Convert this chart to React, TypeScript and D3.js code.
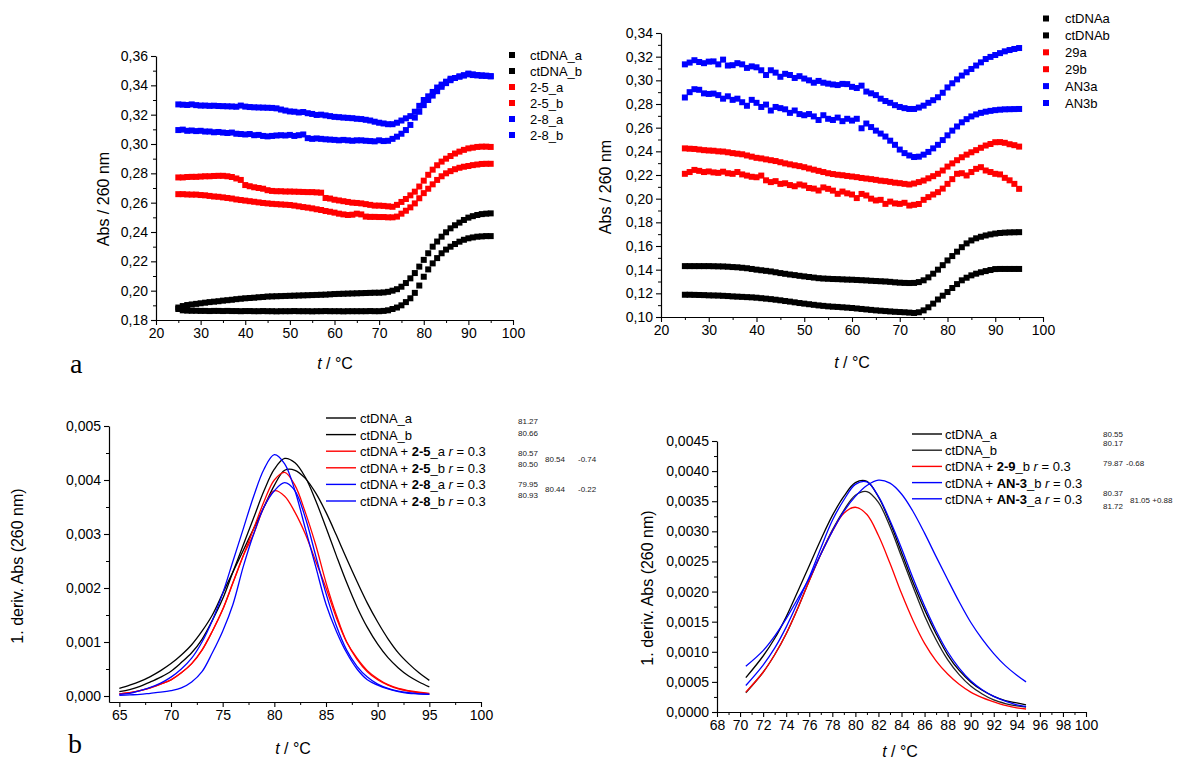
import React, { useEffect, useRef } from "react";
import * as d3 from "d3";

const W = 1177;
const H = 760;
const FONT = "'Liberation Sans', Arial, Helvetica, sans-serif";

// ---------- Top panels: temperature grid (°C) ----------
const TEMPS_TOP = d3.range(25, 96);

// Panel a (left): ctDNA, 2-5, 2-8
const A_CT_A = [0.1885,0.1895,0.1902,0.1906,0.191,0.1914,0.1918,0.1922,0.1925,0.1928,0.1932,
0.1935,0.1938,0.1942,0.1945,0.1948,0.195,0.1952,0.1955,0.1957,0.196,
0.1961,0.1962,0.1963,0.1964,0.1965,0.1966,0.1967,0.1968,0.1969,0.197,
0.1971,0.1972,0.1973,0.1975,0.1977,0.1978,0.1979,0.198,0.1981,0.1982,
0.1983,0.1984,0.1985,0.1986,0.1986,0.1988,0.1992,0.2,0.201,0.2027,
0.2052,0.2084,0.212,0.2164,0.221,0.2255,0.23,0.2335,0.2368,0.2398,
0.2425,0.2446,0.2464,0.2482,0.2498,0.2508,0.2516,0.2522,0.2525,0.2527];
const A_CT_B = [0.1875,0.1866,0.1864,0.1863,0.1863,0.1862,0.1862,0.1861,0.1862,0.1862,0.1861,
0.1862,0.1861,0.1861,0.186,0.1861,0.1861,0.186,0.186,0.1861,0.186,
0.186,0.1859,0.186,0.186,0.186,0.1861,0.186,0.186,0.186,0.1859,
0.186,0.186,0.1861,0.186,0.186,0.186,0.1859,0.186,0.186,0.186,
0.186,0.186,0.1861,0.186,0.186,0.1862,0.1866,0.1875,0.1885,0.19,
0.1922,0.1948,0.1985,0.2035,0.2095,0.2145,0.2186,0.2222,0.2255,0.228,
0.23,0.2318,0.2334,0.2347,0.2357,0.2363,0.2368,0.237,0.2372,0.2372];
const A_25_A = [0.2772,0.2772,0.2775,0.2776,0.2776,0.2778,0.278,0.278,0.2782,0.2783,0.2783,
0.278,0.2775,0.2765,0.2755,0.272,0.2712,0.2705,0.27,0.2695,0.2685,
0.268,0.2678,0.2678,0.2676,0.2676,0.2675,0.2674,0.2673,0.2672,0.2672,
0.267,0.2668,0.2632,0.2628,0.262,0.2615,0.261,0.2605,0.26,0.2598,
0.2595,0.259,0.2585,0.258,0.258,0.2578,0.2575,0.2572,0.2585,0.2605,
0.2625,0.265,0.2675,0.271,0.275,0.279,0.2825,0.2855,0.288,0.29,
0.2918,0.2935,0.2948,0.296,0.297,0.2975,0.298,0.2982,0.2982,0.298];
const A_25_B = [0.2658,0.2658,0.2656,0.2655,0.2655,0.2652,0.265,0.2646,0.2642,0.264,0.2636,
0.2632,0.2628,0.2622,0.2618,0.2614,0.261,0.2606,0.2602,0.2598,0.2595,
0.2592,0.259,0.2588,0.2586,0.2584,0.258,0.2575,0.257,0.2566,0.2561,
0.2555,0.255,0.2543,0.2538,0.2532,0.2525,0.252,0.2516,0.2518,0.2525,
0.252,0.2505,0.2503,0.2503,0.2502,0.2502,0.25,0.25,0.2505,0.2525,
0.2545,0.2568,0.2595,0.263,0.2665,0.2695,0.2725,0.2755,0.278,0.28,
0.2815,0.2828,0.2838,0.2845,0.285,0.2856,0.286,0.2864,0.2865,0.2865];
const A_28_A = [0.327,0.3268,0.3266,0.327,0.3265,0.3262,0.3262,0.326,0.3261,0.3259,0.3258,
0.3257,0.3256,0.3254,0.3262,0.3255,0.3252,0.325,0.3249,0.3248,0.3247,
0.3246,0.3243,0.3235,0.3228,0.3222,0.322,0.3215,0.3218,0.321,0.3205,
0.3198,0.32,0.3195,0.319,0.3185,0.3183,0.318,0.3178,0.3176,0.3172,
0.317,0.3165,0.316,0.3152,0.3145,0.314,0.3135,0.3135,0.3145,0.316,
0.3175,0.319,0.322,0.326,0.33,0.3325,0.3355,0.3385,0.3405,0.3425,
0.3445,0.345,0.346,0.3468,0.3475,0.347,0.3468,0.3465,0.3465,0.3462];
const A_28_B = [0.3095,0.3098,0.309,0.3092,0.3088,0.309,0.3085,0.3085,0.308,0.3082,0.3078,
0.3075,0.3078,0.307,0.3068,0.3065,0.3068,0.306,0.3062,0.3055,0.3052,
0.3055,0.3058,0.306,0.3058,0.3062,0.3055,0.306,0.3065,0.304,0.3035,
0.3038,0.3035,0.3032,0.303,0.3028,0.3025,0.3028,0.3025,0.3022,0.3025,
0.3025,0.3022,0.302,0.3018,0.3025,0.302,0.3022,0.3035,0.305,0.307,
0.3095,0.313,0.318,0.322,0.3265,0.33,0.333,0.336,0.339,0.3415,
0.3435,0.345,0.346,0.3468,0.348,0.3475,0.347,0.3468,0.3465,0.3462];

// Panel a (right): ctDNA, 29, AN3
const B_CT_A = [0.143,0.143,0.143,0.143,0.143,0.143,0.1429,0.1428,0.1427,0.1425,0.1422,
0.142,0.1416,0.1412,0.1406,0.14,0.1395,0.139,0.1385,0.1378,0.1371,
0.1365,0.1359,0.1354,0.1348,0.1343,0.1338,0.1333,0.1328,0.1325,0.1323,
0.1321,0.132,0.1318,0.1316,0.1315,0.1313,0.1311,0.1309,0.1306,0.1304,
0.1302,0.13,0.1297,0.1293,0.129,0.1288,0.1287,0.1288,0.1295,0.131,
0.1335,0.1366,0.14,0.1438,0.1478,0.1515,0.1552,0.159,0.1622,0.1647,
0.1665,0.1678,0.1689,0.1698,0.1705,0.171,0.1713,0.1715,0.1716,0.1717];
const B_CT_B = [0.1188,0.1188,0.1187,0.1186,0.1185,0.1183,0.1182,0.1181,0.1179,0.1177,0.1174,
0.1172,0.117,0.1168,0.1166,0.1163,0.1159,0.1155,0.1151,0.1146,0.1141,
0.1135,0.113,0.1124,0.1118,0.1113,0.1108,0.1103,0.1098,0.1094,0.109,
0.1087,0.1085,0.1082,0.1079,0.1076,0.1072,0.1068,0.1064,0.106,0.1056,
0.1053,0.105,0.1047,0.1044,0.1042,0.104,0.1037,0.1034,0.104,0.1056,
0.1082,0.1113,0.1148,0.118,0.1211,0.1245,0.1278,0.131,0.1332,0.1352,
0.1366,0.1378,0.1388,0.1397,0.1405,0.1406,0.1406,0.1406,0.1406,0.1406];
const B_29_A = [0.2425,0.2422,0.242,0.2415,0.241,0.2407,0.2405,0.24,0.2398,0.2392,0.2385,
0.238,0.2375,0.2365,0.2355,0.2345,0.234,0.2332,0.2325,0.2318,0.2308,
0.2298,0.229,0.2282,0.2275,0.2266,0.2255,0.2245,0.2235,0.2225,0.2215,
0.2208,0.2202,0.2198,0.2192,0.2187,0.2182,0.2175,0.217,0.2165,0.2159,
0.2152,0.2148,0.2142,0.2135,0.2131,0.2125,0.212,0.2128,0.214,0.2153,
0.2172,0.219,0.221,0.2238,0.2271,0.2298,0.2325,0.235,0.2372,0.2392,
0.241,0.243,0.2449,0.2462,0.2477,0.2478,0.2472,0.246,0.2452,0.244];
const B_29_B = [0.221,0.2225,0.2243,0.2235,0.2225,0.223,0.2222,0.2218,0.2228,0.2215,0.221,
0.2225,0.2205,0.2195,0.2185,0.2181,0.2195,0.2155,0.214,0.2148,0.2125,
0.213,0.2115,0.2105,0.212,0.2111,0.209,0.2085,0.2069,0.2095,0.2083,
0.2068,0.2041,0.206,0.2045,0.2035,0.2005,0.204,0.2027,0.2,0.1985,
0.199,0.1956,0.1975,0.196,0.1956,0.1965,0.1942,0.1948,0.1955,0.199,
0.2013,0.2035,0.2055,0.2085,0.2125,0.2165,0.221,0.2215,0.2196,0.2225,
0.2252,0.2266,0.2238,0.2225,0.221,0.2205,0.2176,0.2155,0.2125,0.2083];
const B_AN3_A = [0.3135,0.315,0.317,0.3155,0.3145,0.3158,0.316,0.3135,0.3175,0.3125,0.3128,
0.3145,0.3135,0.3105,0.3118,0.311,0.3085,0.3045,0.3085,0.3065,0.303,
0.3055,0.3045,0.302,0.3035,0.3015,0.3,0.298,0.2995,0.298,0.2972,
0.2965,0.296,0.297,0.2968,0.2945,0.2935,0.2955,0.2905,0.289,0.2875,
0.2845,0.2825,0.281,0.279,0.2775,0.2765,0.2758,0.2758,0.277,0.2786,
0.281,0.2832,0.2857,0.2895,0.294,0.2975,0.3008,0.304,0.3068,0.3096,
0.3125,0.3152,0.318,0.3198,0.3214,0.323,0.3245,0.3256,0.3265,0.3273];
const B_AN3_B = [0.2855,0.29,0.2925,0.292,0.289,0.2885,0.2888,0.2875,0.2845,0.2865,0.2835,
0.2845,0.2815,0.2785,0.2835,0.281,0.2775,0.2795,0.2745,0.2775,0.2765,
0.2755,0.2725,0.2745,0.2715,0.2705,0.2715,0.2695,0.2665,0.2705,0.2675,
0.2665,0.2685,0.2655,0.2675,0.266,0.2675,0.2595,0.2635,0.2605,0.2575,
0.255,0.2525,0.249,0.2455,0.2415,0.2385,0.2365,0.2352,0.2355,0.2372,
0.2395,0.2425,0.2455,0.2495,0.2535,0.2575,0.261,0.2645,0.2672,0.2695,
0.2712,0.2725,0.2735,0.2742,0.2748,0.2752,0.2755,0.2756,0.2757,0.2758];

// ---------- Bottom-left: first derivative (65..95 °C) ----------
const TEMPS_C = d3.range(65, 96);
const C_CT_A = [0.00008,0.00012,0.00018,0.00026,0.00035,0.00046,0.00062,0.0008,0.00105,0.0014,0.0018,0.0023,0.0028,0.0033,0.0038,0.0042,0.0044,0.00432,0.00405,0.00362,0.00312,0.0026,0.0021,0.00165,0.00127,0.00096,0.00071,0.00052,0.00037,0.00026,0.00017];
const C_CT_B = [0.00014,0.0002,0.00027,0.00036,0.00047,0.0006,0.00076,0.00095,0.0012,0.0015,0.0019,0.0023,0.0027,0.0031,0.0035,0.0039,0.00418,0.00418,0.00403,0.00376,0.0034,0.00298,0.00254,0.00212,0.00172,0.00137,0.00106,0.0008,0.0006,0.00043,0.00029];
const C_25_A = [0.00004,0.00006,0.0001,0.00015,0.00022,0.0003,0.00043,0.0006,0.00085,0.0012,0.0016,0.0021,0.0026,0.0031,0.0036,0.004,0.00414,0.0039,0.0034,0.0028,0.0021,0.0015,0.001,0.00068,0.00045,0.0003,0.0002,0.00013,0.00009,0.00006,0.00004];
const C_25_B = [0.00004,0.00006,0.0001,0.00015,0.00022,0.0003,0.00043,0.0006,0.00085,0.0012,0.0016,0.0021,0.0026,0.003,0.0035,0.0038,0.0037,0.0034,0.003,0.0025,0.002,0.00145,0.001,0.0007,0.00047,0.00032,0.00021,0.00014,0.0001,0.00007,0.00005];
const C_28_A = [0.00003,0.00005,0.0001,0.00016,0.00024,0.00035,0.0005,0.0007,0.001,0.0014,0.0019,0.0025,0.0031,0.0037,0.0042,0.00447,0.0043,0.0038,0.0031,0.0024,0.0017,0.0012,0.0008,0.0005,0.0003,0.0002,0.00013,0.00008,0.00005,0.00004,0.00003];
const C_28_B = [0.00001,0.00002,0.00003,0.00005,0.00007,0.0001,0.00015,0.00026,0.00045,0.0008,0.0012,0.0017,0.0024,0.003,0.0035,0.0038,0.00395,0.0038,0.0033,0.0026,0.0019,0.0013,0.00085,0.00055,0.00035,0.00022,0.00014,0.00009,0.00006,0.00004,0.00003];

// ---------- Bottom-right: first derivative ----------
const TEMPS_D = [70.5,72,73,74,75,76,77,78,79,80,81,82,83,84,85,86,87,88,89,90,91,92,93,94,94.8];
const D_CT_A = [0.00057,0.00093,0.00122,0.00158,0.002,0.00243,0.00286,0.00326,0.00358,0.00381,0.00383,0.00357,0.00315,0.00265,0.00215,0.0017,0.0013,0.00095,0.00069,0.0005,0.00036,0.00026,0.00019,0.00015,0.00012];
const D_CT_B = [0.00032,0.00066,0.00095,0.0013,0.00172,0.00218,0.00262,0.00302,0.00335,0.0036,0.00366,0.00348,0.00308,0.00258,0.00208,0.0016,0.0012,0.00087,0.00062,0.00043,0.0003,0.0002,0.00014,0.0001,0.00008];
const D_29_B = [0.00033,0.00066,0.00095,0.0013,0.00172,0.00218,0.00262,0.003,0.0033,0.0034,0.00328,0.00293,0.00247,0.00197,0.00152,0.00114,0.00085,0.00063,0.00046,0.00033,0.00024,0.00017,0.00011,0.00007,0.00005];
const D_AN3_B = [0.00044,0.00078,0.00106,0.00141,0.00182,0.00224,0.00272,0.00318,0.00352,0.00378,0.00382,0.00358,0.00318,0.00272,0.00222,0.00176,0.00135,0.001,0.00073,0.00052,0.00037,0.00026,0.00018,0.00012,0.00009];
const D_AN3_A = [0.00076,0.00102,0.00126,0.00155,0.00188,0.00222,0.00262,0.003,0.00333,0.00358,0.00376,0.00385,0.0038,0.00362,0.00333,0.00297,0.00258,0.0022,0.00183,0.00149,0.00121,0.00097,0.00077,0.00061,0.0005];

// ---------- Ticks ----------
const A_XTICKS = [20,30,40,50,60,70,80,90,100];
const A_XMINOR = [25,35,45,55,65,75,85,95];
const A_YTICKS = [0.18,0.2,0.22,0.24,0.26,0.28,0.3,0.32,0.34,0.36];
const A_YMINOR = [0.19,0.21,0.23,0.25,0.27,0.29,0.31,0.33,0.35];
const B_YTICKS = [0.1,0.12,0.14,0.16,0.18,0.2,0.22,0.24,0.26,0.28,0.3,0.32,0.34];
const B_YMINOR = [0.11,0.13,0.15,0.17,0.19,0.21,0.23,0.25,0.27,0.29,0.31,0.33];
const C_XTICKS = [65,70,75,80,85,90,95,100];
const C_XMINOR = [67.5,72.5,77.5,82.5,87.5,92.5,97.5];
const C_YTICKS = [0,0.001,0.002,0.003,0.004,0.005];
const C_YMINOR = [0.0005,0.0015,0.0025,0.0035,0.0045];
const D_XTICKS = [68,70,72,74,76,78,80,82,84,86,88,90,92,94,96,98,100];
const D_XMINOR = [69,71,73,75,77,79,81,83,85,87,89,91,93,95,97,99];
const D_YTICKS = [0,0.0005,0.001,0.0015,0.002,0.0025,0.003,0.0035,0.004,0.0045];
const D_YMINOR = [0.00025,0.00075,0.00125,0.00175,0.00225,0.00275,0.00325,0.00375,0.00425];

// ---------- Legends ----------
const LEG_A = ["ctDNA_a","ctDNA_b","2-5_a","2-5_b","2-8_a","2-8_b"];
const LEG_B = ["ctDNAa","ctDNAb","29a","29b","AN3a","AN3b"];
const COL6 = ["#000000","#000000","#ff0000","#ff0000","#0000ff","#0000ff"];
const LEG_C = [
  { pre: "ctDNA_a", bold: "", post: "", r: false },
  { pre: "ctDNA_b", bold: "", post: "", r: false },
  { pre: "ctDNA + ", bold: "2-5", post: "_a ", r: true },
  { pre: "ctDNA + ", bold: "2-5", post: "_b ", r: true },
  { pre: "ctDNA + ", bold: "2-8", post: "_a ", r: true },
  { pre: "ctDNA + ", bold: "2-8", post: "_b ", r: true },
];
const LEG_D = [
  { pre: "ctDNA_a", bold: "", post: "", r: false },
  { pre: "ctDNA_b", bold: "", post: "", r: false },
  { pre: "ctDNA + ", bold: "2-9", post: "_b ", r: true },
  { pre: "ctDNA + ", bold: "AN-3", post: "_b ", r: true },
  { pre: "ctDNA + ", bold: "AN-3", post: "_a ", r: true },
];
const COL_C = ["#000000","#000000","#ff0000","#ff0000","#0000ff","#0000ff"];
const COL_D = ["#000000","#222222","#ff0000","#0000ff","#0000ff"];
const NOTES_C = [
  { t: "81.27", x: 518, y: 424 }, { t: "80.66", x: 518, y: 436 },
  { t: "80.57", x: 518, y: 456 }, { t: "80.50", x: 518, y: 467 },
  { t: "80.54", x: 545, y: 462 }, { t: "-0.74", x: 578, y: 462 },
  { t: "79.95", x: 518, y: 487 }, { t: "80.93", x: 518, y: 498 },
  { t: "80.44", x: 545, y: 492 }, { t: "-0.22", x: 578, y: 492 },
];
const NOTES_D = [
  { t: "80.55", x: 1103, y: 437 }, { t: "80.17", x: 1103, y: 446 },
  { t: "79.87", x: 1103, y: 466 }, { t: "-0.68", x: 1126, y: 466 },
  { t: "80.37", x: 1103, y: 496 }, { t: "81.72", x: 1103, y: 509 },
  { t: "81.05 +0.88", x: 1130, y: 503 },
];

type Sel = d3.Selection<any, unknown, null, undefined>;

function drawAxes(g: Sel, x: any, y: any, xt: number[], xm: number[], yt: number[], ym: number[], yDec: number) {
  const y0 = y.range()[0];
  const x0 = x.range()[0];
  const fmt = (d: number) => d3.format(`.${yDec}f`)(d).replace(".", ",");
  const style = (s: Sel) => {
    s.select(".domain").attr("stroke", "#000").attr("stroke-width", 1.2);
    s.selectAll(".tick line").attr("stroke", "#000").attr("stroke-width", 1.1);
    s.selectAll(".tick text").attr("font-family", FONT).attr("font-size", 14).attr("fill", "#000");
  };
  const xb = g.append("g").attr("transform", `translate(0,${y0})`)
    .call(d3.axisBottom(x).tickValues(xt).tickSize(5).tickSizeOuter(0).tickPadding(3).tickFormat((d: any) => String(d)));
  style(xb);
  const xmn = g.append("g").attr("transform", `translate(0,${y0})`)
    .call(d3.axisBottom(x).tickValues(xm).tickSize(3).tickSizeOuter(0).tickFormat(() => ""));
  xmn.select(".domain").remove();
  xmn.selectAll(".tick line").attr("stroke", "#000");
  const yl = g.append("g").attr("transform", `translate(${x0},0)`)
    .call(d3.axisLeft(y).tickValues(yt).tickSize(5).tickSizeOuter(0).tickPadding(3).tickFormat((d: any) => fmt(d)));
  style(yl);
  const ymn = g.append("g").attr("transform", `translate(${x0},0)`)
    .call(d3.axisLeft(y).tickValues(ym).tickSize(3).tickSizeOuter(0).tickFormat(() => ""));
  ymn.select(".domain").remove();
  ymn.selectAll(".tick line").attr("stroke", "#000");
}

function rotLabel(g: Sel, text: string, x: number, y: number) {
  g.append("text").attr("transform", `translate(${x},${y}) rotate(-90)`)
    .attr("text-anchor", "middle").attr("dominant-baseline", "central")
    .attr("font-family", FONT).attr("font-size", 16).text(text);
}

function tLabel(g: Sel, cx: number, y: number) {
  const t = g.append("text").attr("x", cx).attr("y", y).attr("text-anchor", "middle")
    .attr("font-family", FONT).attr("font-size", 16);
  t.append("tspan").attr("font-style", "italic").text("t");
  t.append("tspan").text(" / °C");
}

function scatter(g: Sel, x: any, y: any, temps: number[], vals: number[], color: string) {
  g.append("g").selectAll("rect").data(vals).join("rect")
    .attr("x", (_d: number, i: number) => x(temps[i]) - 3)
    .attr("y", (d: number) => y(d) - 3)
    .attr("width", 6).attr("height", 6).attr("fill", color);
}

function curve(g: Sel, x: any, y: any, temps: number[], vals: number[], color: string) {
  const line = d3.line<number>()
    .x((_d, i) => x(temps[i]))
    .y((d) => y(d))
    .curve(d3.curveCatmullRom.alpha(0.5));
  g.append("path").attr("d", line(vals) as string).attr("fill", "none")
    .attr("stroke", color).attr("stroke-width", 1.3);
}

function squareLegend(g: Sel, labels: string[], sx: number, tx: number, y0: number, dy: number) {
  labels.forEach((lab, i) => {
    const yy = y0 + i * dy;
    g.append("rect").attr("x", sx - 3).attr("y", yy - 3).attr("width", 6).attr("height", 6).attr("fill", COL6[i]);
    g.append("text").attr("x", tx).attr("y", yy).attr("dominant-baseline", "central")
      .attr("font-family", FONT).attr("font-size", 13).text(lab);
  });
}

function lineLegend(g: Sel, items: any[], cols: string[], x1: number, x2: number, tx: number, y0: number, dy: number) {
  items.forEach((it, i) => {
    const yy = y0 + i * dy;
    g.append("line").attr("x1", x1).attr("x2", x2).attr("y1", yy).attr("y2", yy)
      .attr("stroke", cols[i]).attr("stroke-width", 1.4);
    const t = g.append("text").attr("x", tx).attr("y", yy).attr("dominant-baseline", "central")
      .attr("font-family", FONT).attr("font-size", 13);
    t.append("tspan").text(it.pre);
    if (it.bold) t.append("tspan").attr("font-weight", "bold").text(it.bold);
    if (it.post) t.append("tspan").text(it.post);
    if (it.r) {
      t.append("tspan").attr("font-style", "italic").text("r");
      t.append("tspan").text(" = 0.3");
    }
  });
}

function notes(g: Sel, arr: { t: string; x: number; y: number }[]) {
  arr.forEach((n) => {
    g.append("text").attr("x", n.x).attr("y", n.y).attr("font-family", FONT)
      .attr("font-size", 8).attr("fill", "#222").text(n.t);
  });
}

export default function App() {
  const ref = useRef<SVGSVGElement | null>(null);
  useEffect(() => {
    const svg = d3.select(ref.current);
    svg.selectAll("*").remove();
    const root = svg.append("g") as Sel;

    // Panel A (top-left)
    {
      const x = d3.scaleLinear().domain([20, 100]).range([156, 513]);
      const y = d3.scaleLinear().domain([0.18, 0.36]).range([320, 56]);
      const g = root.append("g") as Sel;
      const series = [A_CT_A, A_CT_B, A_25_A, A_25_B, A_28_A, A_28_B];
      series.forEach((s, i) => scatter(g, x, y, TEMPS_TOP, s, COL6[i]));
      drawAxes(g, x, y, A_XTICKS, A_XMINOR, A_YTICKS, A_YMINOR, 2);
      rotLabel(g, "Abs / 260 nm", 103, 199);
      tLabel(g, 335, 369);
      squareLegend(g, LEG_A, 512, 530, 55, 16);
    }
    // Panel B (top-right)
    {
      const x = d3.scaleLinear().domain([20, 100]).range([661, 1043]);
      const y = d3.scaleLinear().domain([0.1, 0.34]).range([317, 33]);
      const g = root.append("g") as Sel;
      const series = [B_CT_A, B_CT_B, B_29_A, B_29_B, B_AN3_A, B_AN3_B];
      series.forEach((s, i) => scatter(g, x, y, TEMPS_TOP, s, COL6[i]));
      drawAxes(g, x, y, A_XTICKS, A_XMINOR, B_YTICKS, B_YMINOR, 2);
      rotLabel(g, "Abs / 260 nm", 605, 187);
      tLabel(g, 852, 368);
      squareLegend(g, LEG_B, 1046, 1065, 18.5, 16.9);
    }
    // Panel C (bottom-left)
    {
      const x = d3.scaleLinear().domain([64, 100]).range([109, 481]);
      const y = d3.scaleLinear().domain([-0.000111, 0.005]).range([702, 426]);
      const g = root.append("g") as Sel;
      const series = [C_CT_A, C_CT_B, C_25_A, C_25_B, C_28_A, C_28_B];
      series.forEach((s, i) => curve(g, x, y, TEMPS_C, s, COL_C[i]));
      drawAxes(g, x, y, C_XTICKS, C_XMINOR, C_YTICKS, C_YMINOR, 3);
      rotLabel(g, "1. deriv. Abs (260 nm)", 17, 566);
      tLabel(g, 293, 754);
      lineLegend(g, LEG_C, COL_C, 326, 356, 360, 418, 16.6);
      notes(g, NOTES_C);
    }
    // Panel D (bottom-right)
    {
      const x = d3.scaleLinear().domain([68, 100]).range([717, 1086]);
      const y = d3.scaleLinear().domain([0, 0.0045]).range([712, 441]);
      const g = root.append("g") as Sel;
      const series = [D_CT_A, D_CT_B, D_29_B, D_AN3_B, D_AN3_A];
      series.forEach((s, i) => curve(g, x, y, TEMPS_D, s, COL_D[i]));
      drawAxes(g, x, y, D_XTICKS, D_XMINOR, D_YTICKS, D_YMINOR, 4);
      rotLabel(g, "1. deriv. Abs (260 nm)", 647, 588);
      tLabel(g, 900, 757);
      lineLegend(g, LEG_D, COL_D, 912, 942, 945, 434, 16.2);
      notes(g, NOTES_D);
    }
    // Panel letters
    root.append("text").attr("x", 70).attr("y", 373).attr("font-family", "'Liberation Serif', 'Times New Roman', serif")
      .attr("font-size", 28).text("a");
    root.append("text").attr("x", 68).attr("y", 753).attr("font-family", "'Liberation Serif', 'Times New Roman', serif")
      .attr("font-size", 28).text("b");
  }, []);

  return (
    <svg ref={ref} width={W} height={H} viewBox={`0 0 ${W} ${H}`}
      style={{ position: "absolute", left: 0, top: 0, background: "#fff" }} />
  );
}
